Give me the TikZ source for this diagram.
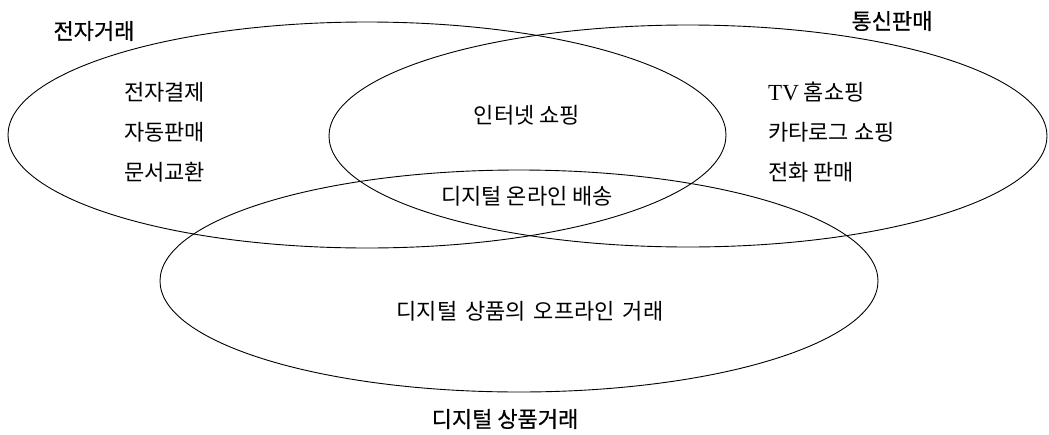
\documentclass[tikz,border=0pt]{standalone}
\usepackage{fontspec}
\newfontfamily\kr{Noto Sans CJK KR}
\newfontfamily\krlabel[FakeBold=0.6]{Noto Sans CJK KR}
\newfontfamily\lat{Liberation Serif}
\begin{document}
\begin{tikzpicture}[x=1pt,y=-1pt,
  setshape/.style={draw=black,line width=0.9pt},
  settitle/.style={font=\krlabel\fontsize{22}{24}\selectfont,inner sep=0pt},
  setitem/.style={font=\kr\fontsize{22}{24}\selectfont,inner sep=0pt,anchor=west},
  midtext/.style={font=\kr\fontsize{22}{24}\selectfont,inner sep=0pt}]
\useasboundingbox (0,0) rectangle (1049,434);
\fill[white] (0,0) rectangle (1049,434);
% sets
\draw[setshape] (367,135) ellipse [x radius=359, y radius=113];
\draw[setshape] (688,136) ellipse [x radius=359, y radius=111];
\draw[setshape] (519,281) ellipse [x radius=359, y radius=111];
% titles
\node[settitle] (t1) at (94,31) {전자거래};
\node[settitle] (t2) at (892,21) {통신판매};
\node[settitle] (t3) at (505,419) {디지털 상품거래};
% left items
\node[setitem] (a1) at (124,92) {전자결제};
\node[setitem] (a2) at (124,132) {자동판매};
\node[setitem] (a3) at (124,172) {문서교환};
% right items
\node[setitem] (b1) at (768,92) {{\lat\fontsize{23}{24}\selectfont TV} 홈쇼핑};
\node[setitem] (b2) at (768,132) {카타로그 쇼핑};
\node[setitem] (b3) at (768,172) {전화 판매};
% middle items
\node[midtext] (m1) at (527,115) {인터넷 쇼핑};
\node[midtext] (m2) at (527,196) {디지털 온라인 배송};
\node[midtext] (m3) at (530,311) {디지털\hspace{3pt} 상품의\hspace{3pt} 오프라인\hspace{3pt} 거래};
\end{tikzpicture}
\end{document}
